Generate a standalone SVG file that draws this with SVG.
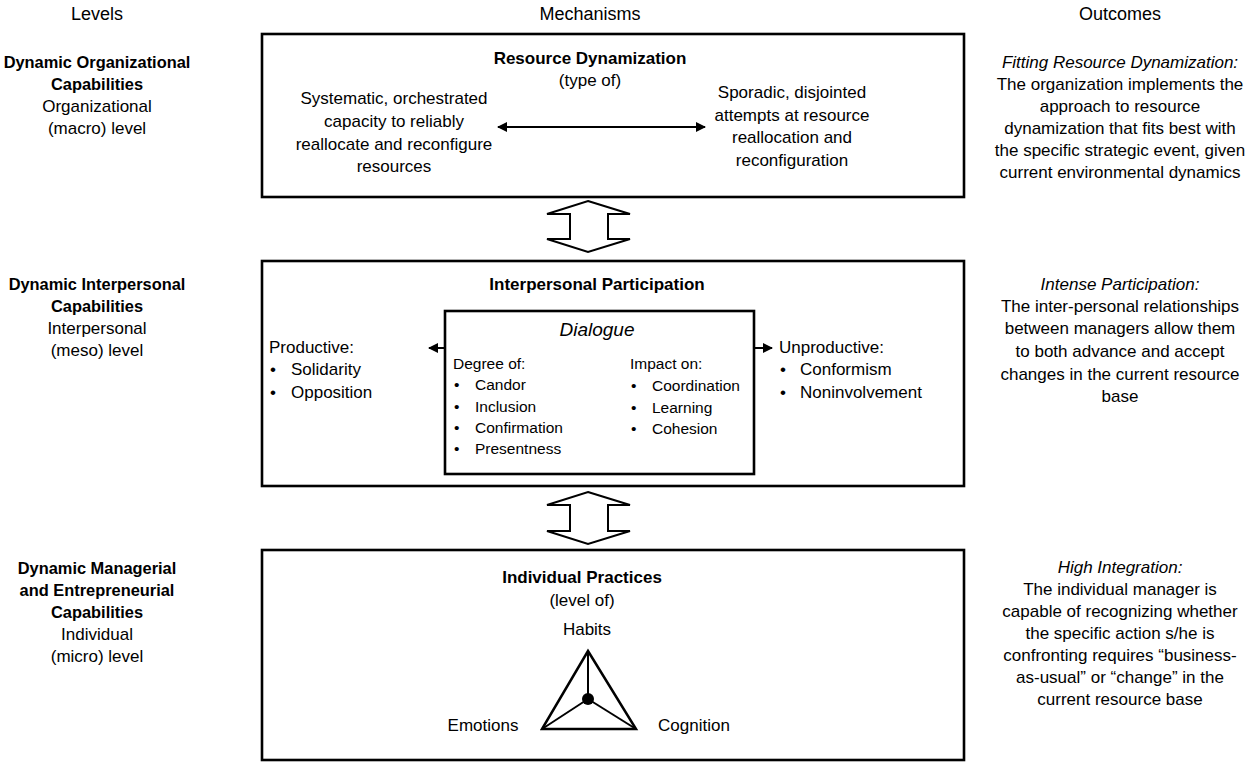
<svg xmlns="http://www.w3.org/2000/svg" width="1254" height="763" viewBox="0 0 1254 763">
<style>
text{font-family:"Liberation Sans",Arial,sans-serif;font-size:17px;fill:#000}
.h{font-size:18px}
.b{font-weight:bold}
.lb{font-weight:bold;font-size:16.4px}
.i{font-style:italic}
.c{text-anchor:middle}
.s{font-size:15.5px}
.box{fill:#fff;stroke:#000;stroke-width:2.6}
.dbl{fill:#fff;stroke:#000;stroke-width:2;stroke-linejoin:miter}
.ln{stroke:#000;stroke-width:2;fill:none}
</style>
<defs>
<marker id="ah" viewBox="0 0 10 10" refX="9" refY="5" markerWidth="5" markerHeight="5" orient="auto-start-reverse">
<path d="M0,0 L10,5 L0,10 z" fill="#000"/>
</marker>
</defs>
<g id="headers">
<text class="h c" x="97" y="20">Levels</text>
<text class="h c" x="590" y="20">Mechanisms</text>
<text class="h c" x="1120" y="20">Outcomes</text>
</g>
<g id="levels">
<text class="c lb" x="97" y="68">Dynamic Organizational</text>
<text class="c lb" x="97" y="90">Capabilities</text>
<text class="c" x="97" y="112">Organizational</text>
<text class="c" x="97" y="134">(macro) level</text>
<text class="c lb" x="97" y="290">Dynamic Interpersonal</text>
<text class="c lb" x="97" y="312">Capabilities</text>
<text class="c" x="97" y="334">Interpersonal</text>
<text class="c" x="97" y="356">(meso) level</text>
<text class="c lb" x="97" y="574">Dynamic Managerial</text>
<text class="c lb" x="97" y="596">and Entrepreneurial</text>
<text class="c lb" x="97" y="618">Capabilities</text>
<text class="c" x="97" y="640">Individual</text>
<text class="c" x="97" y="662">(micro) level</text>
</g>
<g id="outcomes">
<text class="c i" x="1120" y="68">Fitting Resource Dynamization:</text>
<text class="c" x="1120" y="90">The organization implements the</text>
<text class="c" x="1120" y="112">approach to resource</text>
<text class="c" x="1120" y="134">dynamization that fits best with</text>
<text class="c" x="1120" y="156">the specific strategic event, given</text>
<text class="c" x="1120" y="178">current environmental dynamics</text>
<text class="c i" x="1120" y="290">Intense Participation:</text>
<text class="c" x="1120" y="312">The inter-personal relationships</text>
<text class="c" x="1120" y="334">between managers allow them</text>
<text class="c" x="1120" y="357">to both advance and accept</text>
<text class="c" x="1120" y="380">changes in the current resource</text>
<text class="c" x="1120" y="402">base</text>
<text class="c i" x="1120" y="573">High Integration:</text>
<text class="c" x="1120" y="595">The individual manager is</text>
<text class="c" x="1120" y="617">capable of recognizing whether</text>
<text class="c" x="1120" y="639">the specific action s/he is</text>
<text class="c" x="1120" y="661">confronting requires “business-</text>
<text class="c" x="1120" y="683">as-usual” or “change” in the</text>
<text class="c" x="1120" y="705">current resource base</text>
</g>
<g id="resource-dynamization">
<rect class="box" x="262" y="34" width="702" height="163"/>
<text class="c b" x="590" y="64">Resource Dynamization</text>
<text class="c" x="590" y="86">(type of)</text>
<text class="c" x="394" y="104">Systematic, orchestrated</text>
<text class="c" x="394" y="127">capacity to reliably</text>
<text class="c" x="394" y="150">reallocate and reconfigure</text>
<text class="c" x="394" y="172">resources</text>
<text class="c" x="792" y="98">Sporadic, disjointed</text>
<text class="c" x="792" y="121">attempts at resource</text>
<text class="c" x="792" y="143">reallocation and</text>
<text class="c" x="792" y="166">reconfiguration</text>
</g>
<g id="interpersonal-participation">
<rect class="box" x="262" y="261" width="702" height="225"/>
<text class="c b" x="597" y="290">Interpersonal Participation</text>
<text x="269" y="353">Productive:</text>
<text x="270" y="375">•</text><text x="291" y="375">Solidarity</text>
<text x="270" y="398">•</text><text x="291" y="398">Opposition</text>
<text x="779" y="353">Unproductive:</text>
<text x="780" y="375">•</text><text x="800" y="375">Conformism</text>
<text x="780" y="398">•</text><text x="800" y="398">Noninvolvement</text>
</g>
<g id="dialogue">
<rect class="box" x="445" y="311" width="309" height="163"/>
<text class="c i" x="597" y="336" style="font-size:19px">Dialogue</text>
<text class="s" x="453" y="369">Degree of:</text>
<text class="s" x="454" y="390">•</text><text class="s" x="475" y="390">Candor</text>
<text class="s" x="454" y="412">•</text><text class="s" x="475" y="412">Inclusion</text>
<text class="s" x="454" y="433">•</text><text class="s" x="475" y="433">Confirmation</text>
<text class="s" x="454" y="454">•</text><text class="s" x="475" y="454">Presentness</text>
<text class="s" x="630" y="369">Impact on:</text>
<text class="s" x="631" y="391">•</text><text class="s" x="652" y="391">Coordination</text>
<text class="s" x="631" y="413">•</text><text class="s" x="652" y="413">Learning</text>
<text class="s" x="631" y="434">•</text><text class="s" x="652" y="434">Cohesion</text>
</g>
<g id="individual-practices">
<rect class="box" x="262" y="550" width="702" height="210"/>
<text class="c b" x="582" y="583">Individual Practices</text>
<text class="c" x="582" y="606">(level of)</text>
<text class="c" x="587" y="635">Habits</text>
<text class="c" x="483" y="731">Emotions</text>
<text class="c" x="694" y="731">Cognition</text>
<polygon points="588,651 636,729 542,729" fill="none" stroke="#000" stroke-width="2.5" stroke-linejoin="miter"/>
<line class="ln" x1="588" y1="651" x2="588" y2="699"/>
<line class="ln" x1="588" y1="699" x2="542" y2="729"/>
<line class="ln" x1="588" y1="699" x2="636" y2="729"/>
<circle cx="588" cy="699" r="6" fill="#000"/>
</g>
<g id="connectors">
<line class="ln" x1="498" y1="127" x2="705" y2="127" marker-start="url(#ah)" marker-end="url(#ah)"/>
<line class="ln" x1="445" y1="348" x2="429" y2="348" marker-end="url(#ah)"/>
<line class="ln" x1="754" y1="348" x2="772" y2="348" marker-end="url(#ah)"/>
<polygon class="dbl" points="588,201 630,214 608,214 608,239 630,239 588,252 547,239 570,239 570,214 547,214"/>
<polygon class="dbl" points="588,492 630,505 608,505 608,531 630,531 588,544 547,531 570,531 570,505 547,505"/>
</g>
</svg>
